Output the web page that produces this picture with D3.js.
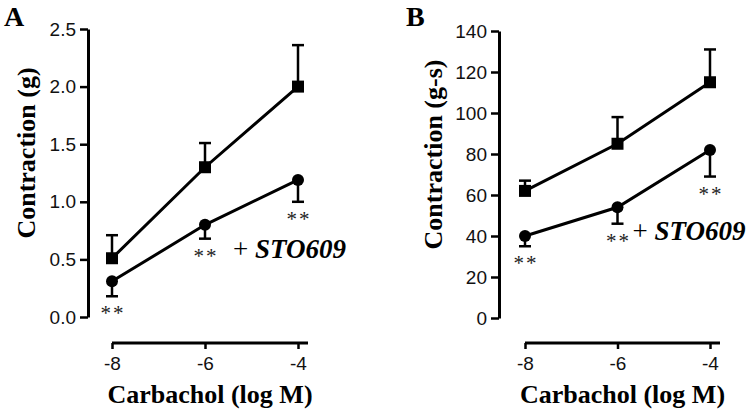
<!DOCTYPE html>
<html>
<head>
<meta charset="utf-8">
<script src="https://cdn.jsdelivr.net/npm/d3@7"></script>
<style>
  html, body { margin: 0; padding: 0; background: #fff; }
  svg { display: block; }
</style>
</head>
<body>
<svg id="chart" width="746" height="411"></svg>
<script>
// ---- data ----
const doses = [-8, -6, -4];
const xTicks = [-8, -6, -4];

const ctrlA = [0.51, 1.30, 2.00];
const ctrlAErr = [0.20, 0.21, 0.36];
const stoA = [0.31, 0.80, 1.19];
const stoAErr = [0.13, 0.12, 0.19];
const yTicksA = [0, 0.5, 1.0, 1.5, 2.0, 2.5];

const ctrlB = [62, 85, 115];
const ctrlBErr = [5, 13, 16];
const stoB = [40, 54, 82];
const stoBErr = [5, 8, 13];
const yTicksB = [0, 20, 40, 60, 80, 100, 120, 140];

const sigMarks = ["**", "**", "**"];
const panelLetters = ["A", "B"];
const yTitles = ["Contraction (g)", "Contraction (g-s)"];
const xTitle = "Carbachol (log M)";
const drugLabel = "STO609";

// ---- layout ----
const panels = [
  {
    letter: panelLetters[0], yTitle: yTitles[0],
    ctrl: ctrlA, ctrlErr: ctrlAErr, sto: stoA, stoErr: stoAErr,
    yTicks: yTicksA, yDomain: [0, 2.5], fmt: d3.format(".1f"),
    xRange: [112, 298], yRange: [317, 29], axisX: 88, xAxisY: 343,
    letterPos: [4, 26], yTitleX: 35,
    label: { dx: 28, v: 0.51 }
  },
  {
    letter: panelLetters[1], yTitle: yTitles[1],
    ctrl: ctrlB, ctrlErr: ctrlBErr, sto: stoB, stoErr: stoBErr,
    yTicks: yTicksB, yDomain: [0, 140], fmt: d3.format("d"),
    xRange: [525, 710], yRange: [318, 31], axisX: 499, xAxisY: 343,
    letterPos: [406, 26], yTitleX: 442,
    label: { dx: 15, v: 38 }
  }
];

const svg = d3.select("#chart");
const serif = "'Liberation Serif','Times New Roman',serif";
const sans = "'Liberation Sans',Arial,Helvetica,sans-serif";

panels.forEach(p => {
  const x = d3.scaleLinear().domain([-8, -4]).range(p.xRange);
  const y = d3.scaleLinear().domain(p.yDomain).range(p.yRange);
  const g = svg.append("g");

  // panel letter
  g.append("text").attr("x", p.letterPos[0]).attr("y", p.letterPos[1])
    .attr("font-family", serif).attr("font-weight", "bold").attr("font-size", 28)
    .text(p.letter);

  // y axis
  const yAxis = d3.axisLeft(y).tickValues(p.yTicks).tickFormat(p.fmt)
    .tickSize(8).tickPadding(4).tickSizeOuter(0);
  const ya = g.append("g").attr("transform", `translate(${p.axisX},0)`).call(yAxis);
  ya.select(".domain").attr("stroke-width", 3);
  ya.selectAll(".tick line").attr("stroke-width", 2.5);
  ya.selectAll(".tick text").attr("font-family", sans).attr("font-size", 19)
    .attr("fill", "#111");

  // x axis
  const xAxis = d3.axisBottom(x).tickValues(xTicks).tickFormat(d3.format("d"))
    .tickSize(6).tickPadding(8).tickSizeOuter(0);
  const xa = g.append("g").attr("transform", `translate(0,${p.xAxisY})`).call(xAxis);
  xa.select(".domain").attr("d", `M${p.xRange[0]},0H${p.xRange[1] + 10}`).attr("stroke-width", 3);
  xa.selectAll(".tick line").attr("stroke-width", 2.5);
  xa.selectAll(".tick text").attr("font-family", sans).attr("font-size", 19)
    .attr("fill", "#111").text(d => String(d).replace("−", "-"));

  // axis titles
  const cx = (p.xRange[0] + p.xRange[1] + 10) / 2;
  g.append("text").attr("x", cx).attr("y", 403).attr("text-anchor", "middle")
    .attr("font-family", serif).attr("font-weight", "bold").attr("font-size", 26)
    .text(xTitle);
  const cy = (p.yRange[0] + p.yRange[1]) / 2 - 20;
  g.append("text").attr("transform", `translate(${p.yTitleX},${cy}) rotate(-90)`)
    .attr("text-anchor", "middle")
    .attr("font-family", serif).attr("font-weight", "bold").attr("font-size", 26)
    .text(p.yTitle);

  const line = d3.line().x((d, i) => x(doses[i])).y(d => y(d));

  // error bars (control upward, STO609 downward)
  const capW = 6;
  doses.forEach((d, i) => {
    const top = y(p.ctrl[i] + p.ctrlErr[i]);
    g.append("line").attr("x1", x(d)).attr("x2", x(d)).attr("y1", y(p.ctrl[i])).attr("y2", top)
      .attr("stroke", "#000").attr("stroke-width", 2.5);
    g.append("line").attr("x1", x(d) - capW).attr("x2", x(d) + capW).attr("y1", top).attr("y2", top)
      .attr("stroke", "#000").attr("stroke-width", 2.5);
    const bot = y(p.sto[i] - p.stoErr[i]);
    g.append("line").attr("x1", x(d)).attr("x2", x(d)).attr("y1", y(p.sto[i])).attr("y2", bot)
      .attr("stroke", "#000").attr("stroke-width", 2.5);
    g.append("line").attr("x1", x(d) - capW).attr("x2", x(d) + capW).attr("y1", bot).attr("y2", bot)
      .attr("stroke", "#000").attr("stroke-width", 2.5);
    // significance
    g.append("text").attr("x", x(d) + 1).attr("y", bot + 24).attr("text-anchor", "middle")
      .attr("font-family", serif).attr("font-size", 21).attr("letter-spacing", 2)
      .attr("fill", "#222").text(sigMarks[i]);
  });

  // lines
  g.append("path").attr("d", line(p.ctrl)).attr("fill", "none")
    .attr("stroke", "#000").attr("stroke-width", 3);
  g.append("path").attr("d", line(p.sto)).attr("fill", "none")
    .attr("stroke", "#000").attr("stroke-width", 3);

  // markers
  const sq = 12;
  g.selectAll(null).data(p.ctrl).enter().append("rect")
    .attr("x", (d, i) => x(doses[i]) - sq / 2).attr("y", d => y(d) - sq / 2)
    .attr("width", sq).attr("height", sq).attr("fill", "#000");
  g.selectAll(null).data(p.sto).enter().append("circle")
    .attr("cx", (d, i) => x(doses[i])).attr("cy", d => y(d)).attr("r", 6).attr("fill", "#000");

  // + STO609 label
  const t = g.append("text").attr("x", x(-6) + p.label.dx).attr("y", y(p.label.v))
    .attr("font-family", serif).attr("font-size", 27);
  t.append("tspan").text("+ ");
  t.append("tspan").attr("font-weight", "bold").attr("font-style", "italic").text(drugLabel);
});
</script>
</body>
</html>
